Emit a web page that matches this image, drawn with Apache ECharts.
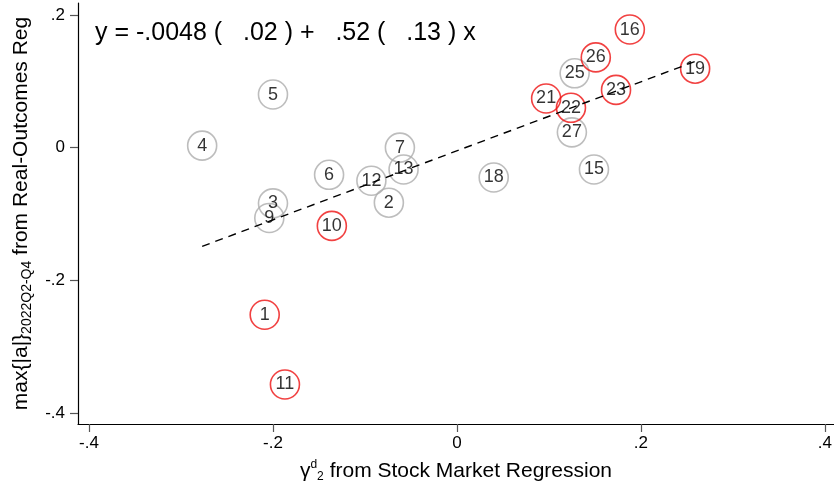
<!DOCTYPE html>
<html>
<head>
<meta charset="utf-8">
<script src="https://cdn.jsdelivr.net/npm/echarts@6/dist/echarts.min.js"></script>
<style>
  html, body { margin: 0; padding: 0; background: #fff; }
  #chart { width: 834px; height: 486px; }
</style>
</head>
<body>
<div id="chart"></div>
<script>
// Industry-level estimates: stock-market gamma vs. real-outcomes max|a|
const pointIds = ['1','2','3','4','5','6','7','9','10','11','12','13','15','16','18','19','21','22','23','25','26','27'];
const gammaX   = [-0.209,-0.074,-0.200,-0.277,-0.200,-0.139,-0.062,-0.204,-0.136,-0.187,-0.093,-0.058,0.149,0.188,0.040,0.259,0.097,0.124,0.173,0.128,0.151,0.125];
const maxAlphaY= [-0.252,-0.083,-0.084,0.003,0.080,-0.041,0.000,-0.106,-0.118,-0.357,-0.050,-0.033,-0.033,0.178,-0.045,0.119,0.074,0.060,0.087,0.112,0.136,0.023];
const flagged  = [1,0,0,0,0,0,0,0,1,1,0,0,0,1,0,1,1,1,1,0,1,0];

// Fitted line: y = a + b x
const intercept = -0.0048, interceptSE = 0.02;
const slope = 0.52, slopeSE = 0.13;

const tickValues = [-0.4, -0.2, 0, 0.2, 0.4];
const fmtTick = v => {
  const r = Math.round(v * 10) / 10;
  if (r === 0) return '0';
  return (r < 0 ? '-' : '') + String(Math.abs(r)).replace(/^0/, '');
};
const fmtCoef = v => (v < 0 ? '-' : '') + String(Math.abs(v)).replace(/^0/, '');

const redPts = [], grayPts = [];
pointIds.forEach((id, i) => {
  const p = { value: [gammaX[i], maxAlphaY[i]], name: id };
  (flagged[i] ? redPts : grayPts).push(p);
});

const xLo = Math.min(...gammaX), xHi = Math.max(...gammaX);
const fitLine = [[xLo, intercept + slope * xLo], [xHi, intercept + slope * xHi]];

const FONT = '"Liberation Sans", Arial, Helvetica, sans-serif';

const circleSeries = (data, color) => ({
  type: 'scatter',
  data: data,
  symbol: 'circle',
  symbolSize: 29,
  itemStyle: { color: 'rgba(255,255,255,0)', borderColor: color, borderWidth: 1.6 },
  label: {
    show: true, position: 'inside', formatter: p => p.name,
    color: '#000', fontSize: 18, fontFamily: FONT
  },
  emphasis: { disabled: true },
  z: 3
});

const chart = echarts.init(document.getElementById('chart'), null, { renderer: 'canvas' });
chart.setOption({
  animation: false,
  backgroundColor: '#fff',
  grid: { left: 78, right: 0, top: 3, bottom: 62, containLabel: false, outerBoundsMode: 'none' },
  xAxis: {
    type: 'value', min: -0.412, max: 0.41,
    splitLine: { show: false },
    axisLine: { show: true, onZero: false, lineStyle: { color: '#000', width: 1.2 } },
    axisTick: { show: true, length: 8, customValues: tickValues, lineStyle: { color: '#555', width: 1.2 } },
    axisLabel: { customValues: tickValues, formatter: fmtTick, fontSize: 17, color: '#000', fontFamily: FONT, margin: 11 },
    name: '{g|γ}{sup|d}{sub|2} from Stock Market Regression',
    nameLocation: 'middle', nameGap: 35,
    nameTextStyle: {
      fontSize: 21, color: '#000', fontFamily: FONT,
      rich: {
        g: { fontSize: 21, fontFamily: FONT, color: '#000' },
        sup: { fontSize: 12, fontFamily: FONT, color: '#000', verticalAlign: 'top', padding: [0, 0, 12, 0] },
        sub: { fontSize: 12, fontFamily: FONT, color: '#000', verticalAlign: 'bottom', padding: [12, 0, 0, 0] }
      }
    }
  },
  yAxis: {
    type: 'value', min: -0.4166, max: 0.218,
    splitLine: { show: false },
    axisLine: { show: true, onZero: false, lineStyle: { color: '#000', width: 1.2 } },
    axisTick: { show: true, length: 8, customValues: tickValues, lineStyle: { color: '#555', width: 1.2 } },
    axisLabel: { customValues: tickValues, formatter: fmtTick, fontSize: 17, color: '#000', fontFamily: FONT, margin: 13 },
    name: 'max{|a|}{sub|2022Q2-Q4} from Real-Outcomes Reg',
    nameLocation: 'middle', nameGap: 44, nameRotate: 90,
    nameTextStyle: {
      fontSize: 21, color: '#000', fontFamily: FONT,
      rich: {
        sub: { fontSize: 14, fontFamily: FONT, color: '#000', verticalAlign: 'bottom', padding: [12, 0, 0, 0] }
      }
    }
  },
  graphic: [{
    type: 'text', left: 95, top: 21, silent: true,
    style: {
      text: 'y = ' + fmtCoef(intercept) + ' (   ' + fmtCoef(interceptSE) + ' ) +   ' + fmtCoef(slope) + ' (   ' + fmtCoef(slopeSE) + ' ) x',
      fontSize: 25, fontFamily: FONT, fill: '#000'
    }
  }],
  series: [
    circleSeries(grayPts, '#adadad'),
    circleSeries(redPts, '#ee1111'),
    {
      type: 'line', data: fitLine, showSymbol: false, symbol: 'none',
      lineStyle: { color: '#000', width: 1.4, type: [8, 6] },
      emphasis: { disabled: true }, z: 4
    }
  ]
});
</script>
</body>
</html>
